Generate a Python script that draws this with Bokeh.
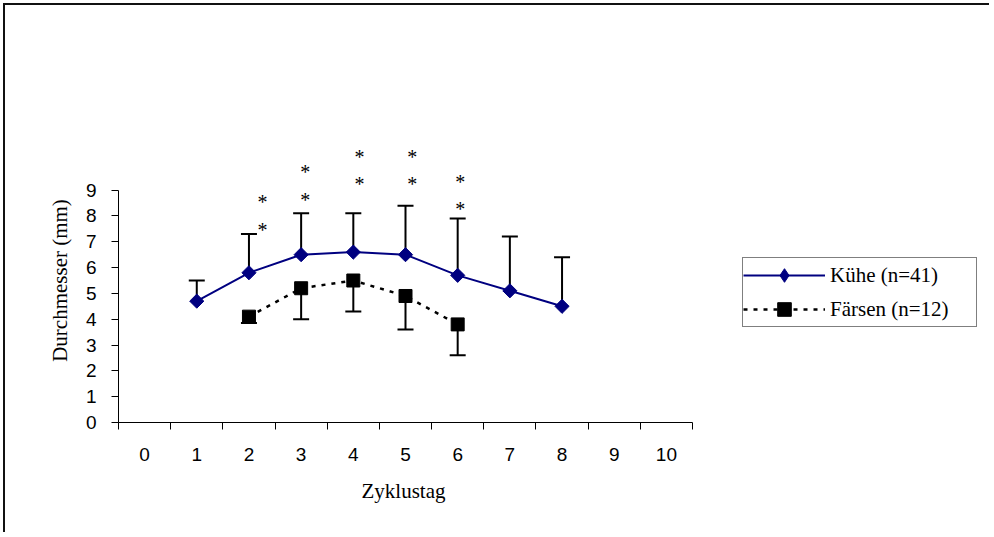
import math
from bokeh.plotting import figure
from bokeh.models import (ColumnDataSource, Range1d, FixedTicker, Whisker, TeeHead,
                          Legend, LegendItem, Title)
from bokeh.core.properties import value
from bokeh.embed import file_html
from bokeh.resources import INLINE

# ---- data ----
x_labels = [str(i) for i in range(0, 11)]
kuehe_days = [1, 2, 3, 4, 5, 6, 7, 8]
kuehe_mean = [4.7, 5.8, 6.5, 6.6, 6.5, 5.7, 5.1, 4.5]
kuehe_upper = [5.5, 7.3, 8.1, 8.1, 8.4, 7.9, 7.2, 6.4]
faersen_days = [2, 3, 4, 5, 6]
faersen_mean = [4.1, 5.2, 5.5, 4.9, 3.8]
faersen_lower = [3.85, 4.0, 4.3, 3.6, 2.6]
star_x = [2.26, 2.26, 3.08, 3.08, 4.12, 4.12, 5.13, 5.13, 6.05, 6.05]
star_y = [8.54, 7.47, 9.71, 8.62, 10.28, 9.22, 10.28, 9.22, 9.31, 8.26]
y_ticks = list(range(0, 10))

serif = "Liberation Serif"
sans = "Liberation Sans"

# frame extends to the right edge so the legend (inside the frame) is not clipped;
# the x axis itself is bounded to the 11 categories
W, H = 986, 529
left, top, bottom_px = 113, 133, 112
cat_px = 574 / 11.0
frame_w = W - left
x_end = -0.5 + frame_w / cat_px

p = figure(width=W, height=H, x_range=Range1d(-0.5, x_end), y_range=Range1d(0, 11),
           output_backend="svg", toolbar_location=None,
           min_border_left=left, min_border_right=0, min_border_top=top,
           min_border_bottom=bottom_px)
p.styles = {"border-left": "2px solid #111", "border-top": "2px solid #111",
            "margin-left": "3px", "margin-top": "3px"}
p.grid.visible = False
p.outline_line_color = None
p.background_fill_color = "white"
p.border_fill_color = "white"

# x axis: labels at category centres, tick marks between categories
xa = p.xaxis[0]
xa.bounds = (-0.5, 10.5)
xa.ticker = FixedTicker(ticks=list(range(0, 11)), minor_ticks=[i - 0.5 for i in range(0, 12)])
xa.major_label_overrides = {i: x_labels[i] for i in range(11)}
xa.major_tick_line_color = None
xa.major_tick_out = 0
xa.major_tick_in = 0
xa.minor_tick_line_color = "black"
xa.minor_tick_out = 7
xa.minor_tick_in = 0
xa.axis_line_color = "black"
xa.major_label_text_font = sans
xa.major_label_text_font_size = "19px"
xa.major_label_text_color = "black"
xa.major_label_standoff = 18

# x axis title, centred under the category axis
xt = Title(text="Zyklustag", align="left", offset=243, text_font=serif,
           text_font_size="21px", text_font_style="normal", text_color="black",
           standoff=27)
p.add_layout(xt, "below")

ya = p.yaxis[0]
ya.ticker = FixedTicker(ticks=y_ticks, minor_ticks=[])
ya.bounds = (0, 9)
ya.major_tick_line_color = "black"
ya.major_tick_out = 7
ya.major_tick_in = 0
ya.minor_tick_line_color = None
ya.axis_line_color = "black"
ya.major_label_text_font = sans
ya.major_label_text_font_size = "19px"
ya.major_label_text_color = "black"
ya.major_label_standoff = 15
ya.axis_label = "Durchmesser (mm)"
ya.axis_label_text_font = serif
ya.axis_label_text_font_style = "normal"
ya.axis_label_text_font_size = "21px"
ya.axis_label_text_color = "black"
ya.axis_label_standoff = 11

# sources
ks = ColumnDataSource(dict(x=kuehe_days, y=kuehe_mean, top=kuehe_upper))
fs = ColumnDataSource(dict(x=faersen_days, y=faersen_mean, low=faersen_lower))

wk = Whisker(base="x", lower="y", upper="top", source=ks, dimension="height",
             line_color="black", line_width=2,
             upper_head=TeeHead(size=16, line_color="black", line_width=2), lower_head=None,
             level="underlay")
wf = Whisker(base="x", lower="low", upper="y", source=fs, dimension="height",
             line_color="black", line_width=2,
             lower_head=TeeHead(size=16, line_color="black", line_width=2), upper_head=None,
             level="underlay")
p.add_layout(wk)
p.add_layout(wf)

navy = "#000080"
kl = p.line("x", "y", source=ks, line_color=navy, line_width=2)
km = p.scatter("x", "y", source=ks, marker="square", angle=math.pi / 4, size=10,
               fill_color=navy, line_color=navy)
fl = p.line("x", "y", source=fs, line_color="black", line_width=2.5, line_dash="4 6")
fm = p.scatter("x", "y", source=fs, marker="square", size=13,
               fill_color="black", line_color="black")
# legend-only proxy (diamond symbol) for the Kühe series; NaN -> nothing drawn in the plot
kd = p.scatter(x=[float("nan")], y=[float("nan")], marker="diamond",
               fill_color=navy, line_color=navy)

p.text(x=star_x, y=star_y, text=["*"] * len(star_x), text_font=value(serif),
       text_font_size="20px", text_align="center", text_baseline="middle",
       text_color="black")

legend = Legend(items=[LegendItem(label="Kühe (n=41)", renderers=[kl, kd]),
                       LegendItem(label="Färsen (n=12)", renderers=[fl, fm])],
                location=(624, 95), orientation="vertical",
                glyph_width=82, glyph_height=34, label_height=34, label_width=146,
                label_standoff=5, spacing=0, padding=0, margin=0,
                label_text_font=serif, label_text_font_size="21px",
                label_text_color="black",
                border_line_color="black", border_line_width=1,
                background_fill_color="white", background_fill_alpha=1)
p.add_layout(legend)

open("out.html", "w").write(file_html(p, INLINE))
